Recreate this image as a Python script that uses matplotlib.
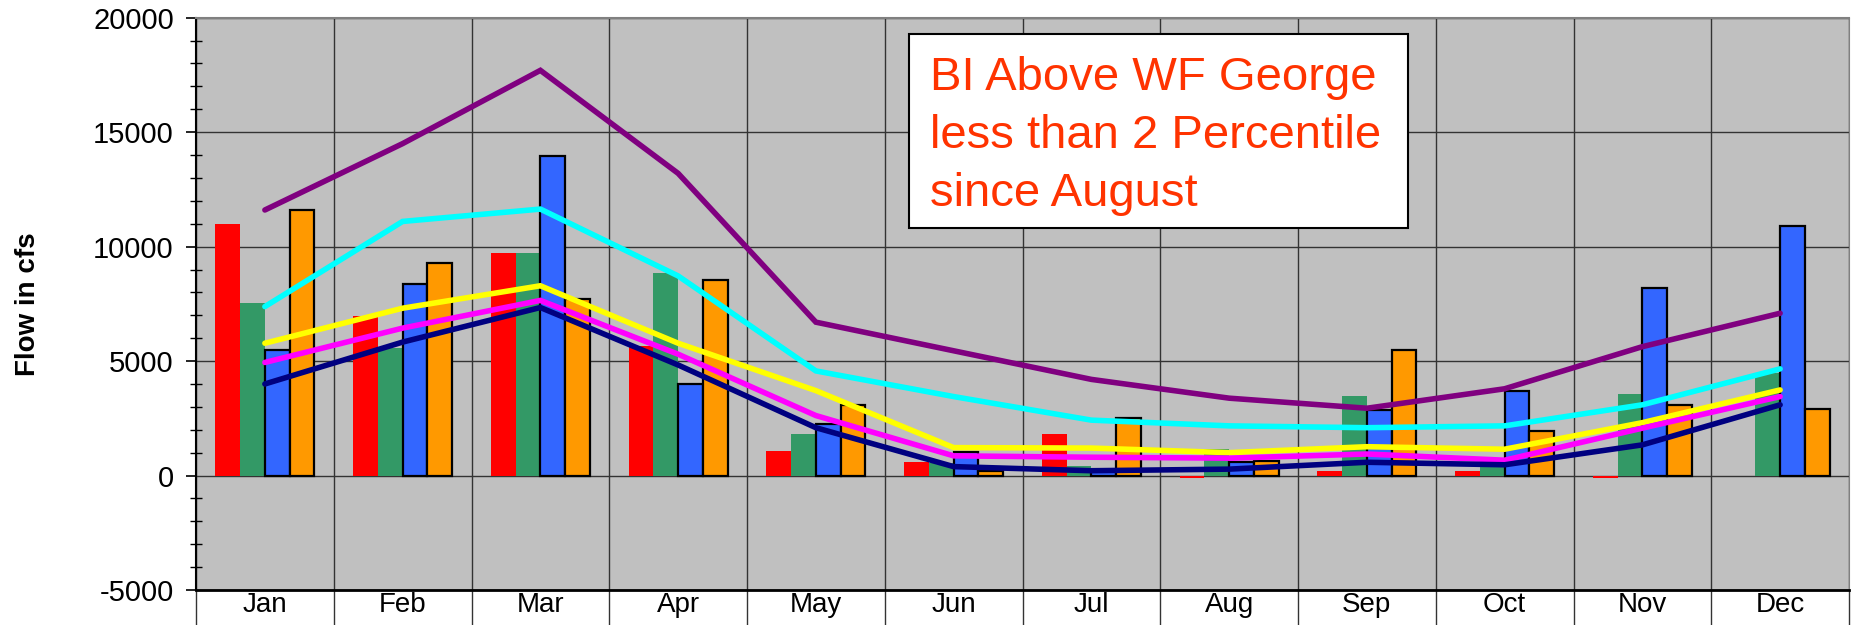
import matplotlib
matplotlib.use('Agg')
import matplotlib.pyplot as plt
from matplotlib.patches import Rectangle
from matplotlib.ticker import MultipleLocator
import numpy as np

plt.rcParams['font.family'] = ['Liberation Sans', 'DejaVu Sans']
plt.rcParams['axes.unicode_minus'] = False

MONTHS = ['Jan', 'Feb', 'Mar', 'Apr', 'May', 'Jun',
          'Jul', 'Aug', 'Sep', 'Oct', 'Nov', 'Dec']

# bar series (cfs)
bars_red = [11000, 6950, 9700, 5650, 1070, 610, 1820, -100, 220, 220, -100, 0]
bars_green = [7550, 5560, 9700, 8850, 1820, 540, 420, 1150, 3480, 400, 3570, 4500]
bars_blue = [5480, 8370, 13940, 4000, 2260, 1050, 250, 600, 2870, 3710, 8180, 10880]
bars_orange = [11620, 9300, 7730, 8540, 3090, 180, 2530, 650, 5490, 1950, 3060, 2900]

# line series (cfs)
line_purple = [11600, 14500, 17700, 13200, 6700, 5450, 4200, 3380, 2940, 3790, 5630, 7090]
line_cyan = [7380, 11100, 11640, 8720, 4570, 3450, 2420, 2170, 2090, 2170, 3090, 4660]
line_yellow = [5780, 7310, 8290, 5780, 3710, 1220, 1200, 1000, 1260, 1150, 2310, 3740]
line_magenta = [4940, 6440, 7650, 5300, 2620, 860, 800, 760, 940, 670, 2070, 3450]
line_navy = [4000, 5830, 7340, 4830, 2090, 390, 210, 280, 580, 470, 1340, 3090]

NOTE_LINES = ['BI Above WF George', 'less than 2 Percentile', 'since August']

W, H, DPI = 1851, 625, 100


def draw_chart():
    fig = plt.figure(figsize=(W / DPI, H / DPI), dpi=DPI)
    ax = fig.add_axes([196 / W, 1 - 590 / H, (1849 - 196) / W, (590 - 17.7) / H])
    ax.set_facecolor('#C0C0C0')

    x = np.arange(len(MONTHS))
    width = 0.18
    bar_series = [
        (bars_red, '#FF0000', None),
        (bars_green, '#339966', None),
        (bars_blue, '#3366FF', 'black'),
        (bars_orange, '#FF9900', 'black'),
    ]
    for i, (vals, color, edge) in enumerate(bar_series):
        off = (i - 1.5) * width
        if edge:
            ax.bar(x + off, vals, width, color=color, edgecolor=edge,
                   linewidth=1.6, zorder=3)
        else:
            ax.bar(x + off, vals, width, color=color, linewidth=0, zorder=3)

    for vals, color in [
        (line_purple, '#800080'),
        (line_cyan, '#00FFFF'),
        (line_yellow, '#FFFF00'),
        (line_magenta, '#FF00FF'),
        (line_navy, '#000080'),
    ]:
        ax.plot(x, vals, color=color, linewidth=4, zorder=4,
                solid_capstyle='round', solid_joinstyle='miter')

    ax.set_xlim(-0.5, len(MONTHS) - 0.5)
    ax.set_ylim(-5000, 20000)

    ax.set_xticks(x)
    ax.set_xticklabels(MONTHS, fontsize=20)
    ax.set_xticks(np.arange(len(MONTHS) + 1) - 0.5, minor=True)
    ax.tick_params(axis='x', which='major', length=0, pad=1.5)
    ax.tick_params(axis='x', which='minor', length=26, width=1,
                   direction='out', color='#333333')

    ax.yaxis.set_major_locator(MultipleLocator(5000))
    ax.yaxis.set_minor_locator(MultipleLocator(1000))
    ax.tick_params(axis='y', which='major', labelsize=21, length=7,
                   width=1.2, direction='out', pad=9)
    ax.tick_params(axis='y', which='minor', length=9, width=1,
                   direction='inout')

    ax.grid(which='major', axis='y', color='#333333', linewidth=1, zorder=1)
    ax.grid(which='minor', axis='x', color='#333333', linewidth=1, zorder=1)
    ax.set_axisbelow(True)

    ax.spines['left'].set_linewidth(1.5)
    ax.spines['bottom'].set_linewidth(2)
    ax.spines['top'].set_color('#808080')
    ax.spines['top'].set_linewidth(1.5)
    ax.spines['right'].set_color('#808080')

    ax.set_ylabel('Flow in cfs', fontsize=20, fontweight='bold')
    ax.yaxis.set_label_coords(-0.094, 0.5)

    # note box
    x0 = (909 - 196) / 1653
    x1 = (1408 - 196) / 1653
    y0 = (590 - 228) / 572
    y1 = (590 - 34) / 572
    ax.add_patch(Rectangle((x0, y0), x1 - x0, y1 - y0, transform=ax.transAxes,
                           facecolor='white', edgecolor='black',
                           linewidth=1.5, zorder=6))
    for i, line in enumerate(NOTE_LINES):
        yb = (590 - (90.7 + 58 * i)) / 572
        ax.text((930 - 196) / 1653, yb, line, transform=ax.transAxes,
                fontsize=34, color='#FF3300', va='baseline', ha='left',
                zorder=7)

    fig.savefig('out.png', dpi=DPI)
    plt.close()


draw_chart()
